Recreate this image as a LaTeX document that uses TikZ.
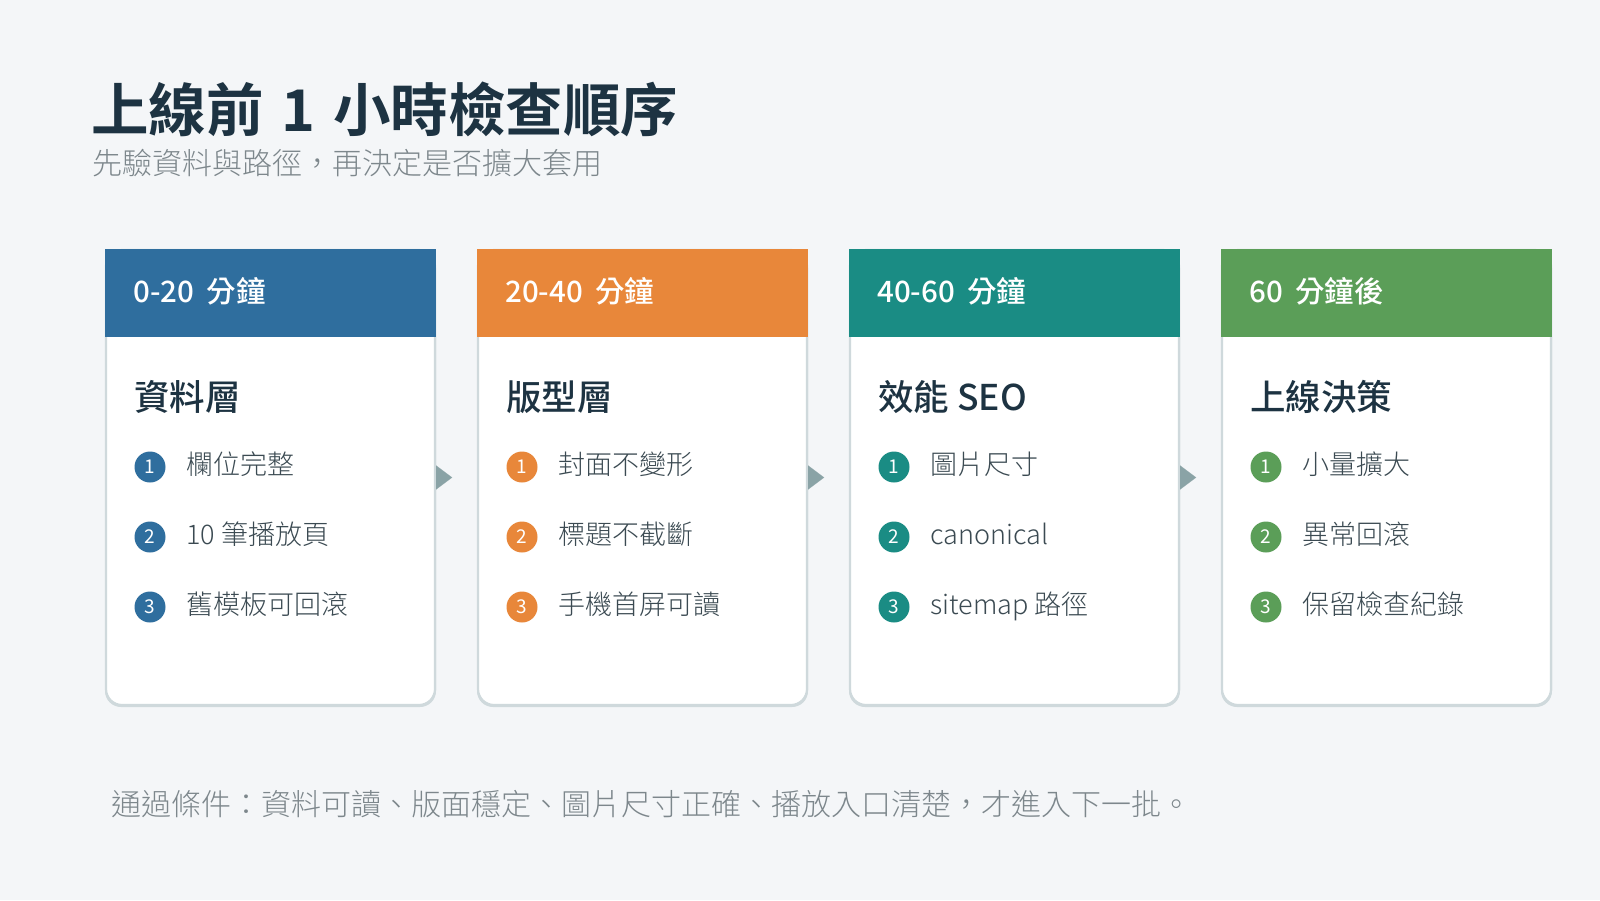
\documentclass[tikz,border=0pt]{standalone}
\usepackage{fontspec}
\setmainfont{Noto Sans CJK TC}
\newfontfamily\fbold{Noto Sans CJK TC Bold}
\newfontfamily\fmed{Noto Sans CJK TC Medium}
\newfontfamily\flight{Noto Sans CJK TC Light}
\usetikzlibrary{arrows.meta}
\definecolor{bgc}{HTML}{F4F6F8}
\definecolor{titlec}{HTML}{1D3342}
\definecolor{subc}{HTML}{7D878C}
\definecolor{itemc}{HTML}{3B4A52}
\definecolor{borderc}{HTML}{CFD9DC}
\definecolor{arrowc}{HTML}{8AA3A6}
\definecolor{cblue}{HTML}{2F6E9E}
\definecolor{corange}{HTML}{E8873A}
\definecolor{cteal}{HTML}{1A8C84}
\definecolor{cgreen}{HTML}{5B9E58}
\newcommand{\wsp}{\hspace{0.42em}}
\newcommand{\tsp}{\hspace{0.31em}}
\tikzset{
  txt/.style={inner sep=0pt, anchor=base west},
  cardbox/.style={rectangle, draw=borderc, line width=2.2pt, fill=white,
    minimum width=329pt, minimum height=455pt, rounded corners=16pt, inner sep=0pt},
  hdrbox/.style={rectangle, minimum width=331.5pt, minimum height=88pt, inner sep=0pt},
  hdrtxt/.style={txt, text=white, font=\fmed\fontsize{29.5}{34}\selectfont},
  cardtitle/.style={txt, text=titlec, font=\fmed\fontsize{35.5}{40}\selectfont},
  itemtxt/.style={txt, text=itemc, font=\flight\fontsize{27}{32}\selectfont},
  badge/.style={circle, minimum size=31pt, inner sep=0pt, text=white,
    font=\fontsize{19}{20}\selectfont},
  flowarrow/.style={draw=arrowc, fill=arrowc, line width=0.1pt,
    -{Triangle[length=16pt,width=24pt]}}
}
\begin{document}
\begin{tikzpicture}[x=1pt,y=-1pt]
\useasboundingbox (0,0) rectangle (1600,900);
\fill[bgc] (0,0) rectangle (1600,900);

\node[txt, text=titlec, font=\fbold\fontsize{57.5}{64}\selectfont] (title) at (91,131) {上線前\tsp 1\tsp 小時檢查順序};
\node[txt, text=subc, font=\flight\fontsize{30}{36}\selectfont] (subtitle) at (92,174) {先驗資料與路徑，再決定是否擴大套用};

\foreach \i/\x/\col/\hd/\tt/\a/\b/\c in {
  1/105/cblue/0-20\wsp 分鐘/資料層/欄位完整/10 筆播放頁/舊模板可回滾,
  2/477/corange/20-40\wsp 分鐘/版型層/封面不變形/標題不截斷/手機首屏可讀,
  3/849/cteal/40-60\wsp 分鐘/效能 SEO/圖片尺寸/canonical/sitemap 路徑,
  4/1221/cgreen/60\wsp 分鐘後/上線決策/小量擴大/異常回滾/保留檢查紀錄}{
  \fill[borderc] (\x+165.5, 479.5) +(-165.5,-227.5) [rounded corners=16pt] rectangle +(165.5,227.5);
  \node[cardbox] (card\i) at (\x+165.5, 477.5) {};
  \node[hdrbox, fill=\col] (hdr\i) at (\x+165.5, 293) {};
  \node[hdrtxt] (hdrt\i) at (\x+28, 302) {\hd};
  \node[cardtitle] (ct\i) at (\x+29, 410) {\tt};
  \node[badge, fill=\col] (b\i a) at (\x+45, 467) {1};
  \node[badge, fill=\col] (b\i b) at (\x+45, 537) {2};
  \node[badge, fill=\col] (b\i c) at (\x+45, 607) {3};
  \node[itemtxt] (it\i a) at (\x+81, 474) {\a};
  \node[itemtxt] (it\i b) at (\x+81, 544) {\b};
  \node[itemtxt] (it\i c) at (\x+81, 614) {\c};
}

\foreach \i in {1,2,3}{
  \coordinate (tip\i) at ([xshift=16pt]card\i.east);
  \draw[flowarrow] (card\i.east) -- (tip\i);
}

\node[txt, text=subc, font=\flight\fontsize{30}{36}\selectfont] (footer) at (111,815) {通過條件：資料可讀、版面穩定、圖片尺寸正確、播放入口清楚，才進入下一批。};
\end{tikzpicture}
\end{document}
